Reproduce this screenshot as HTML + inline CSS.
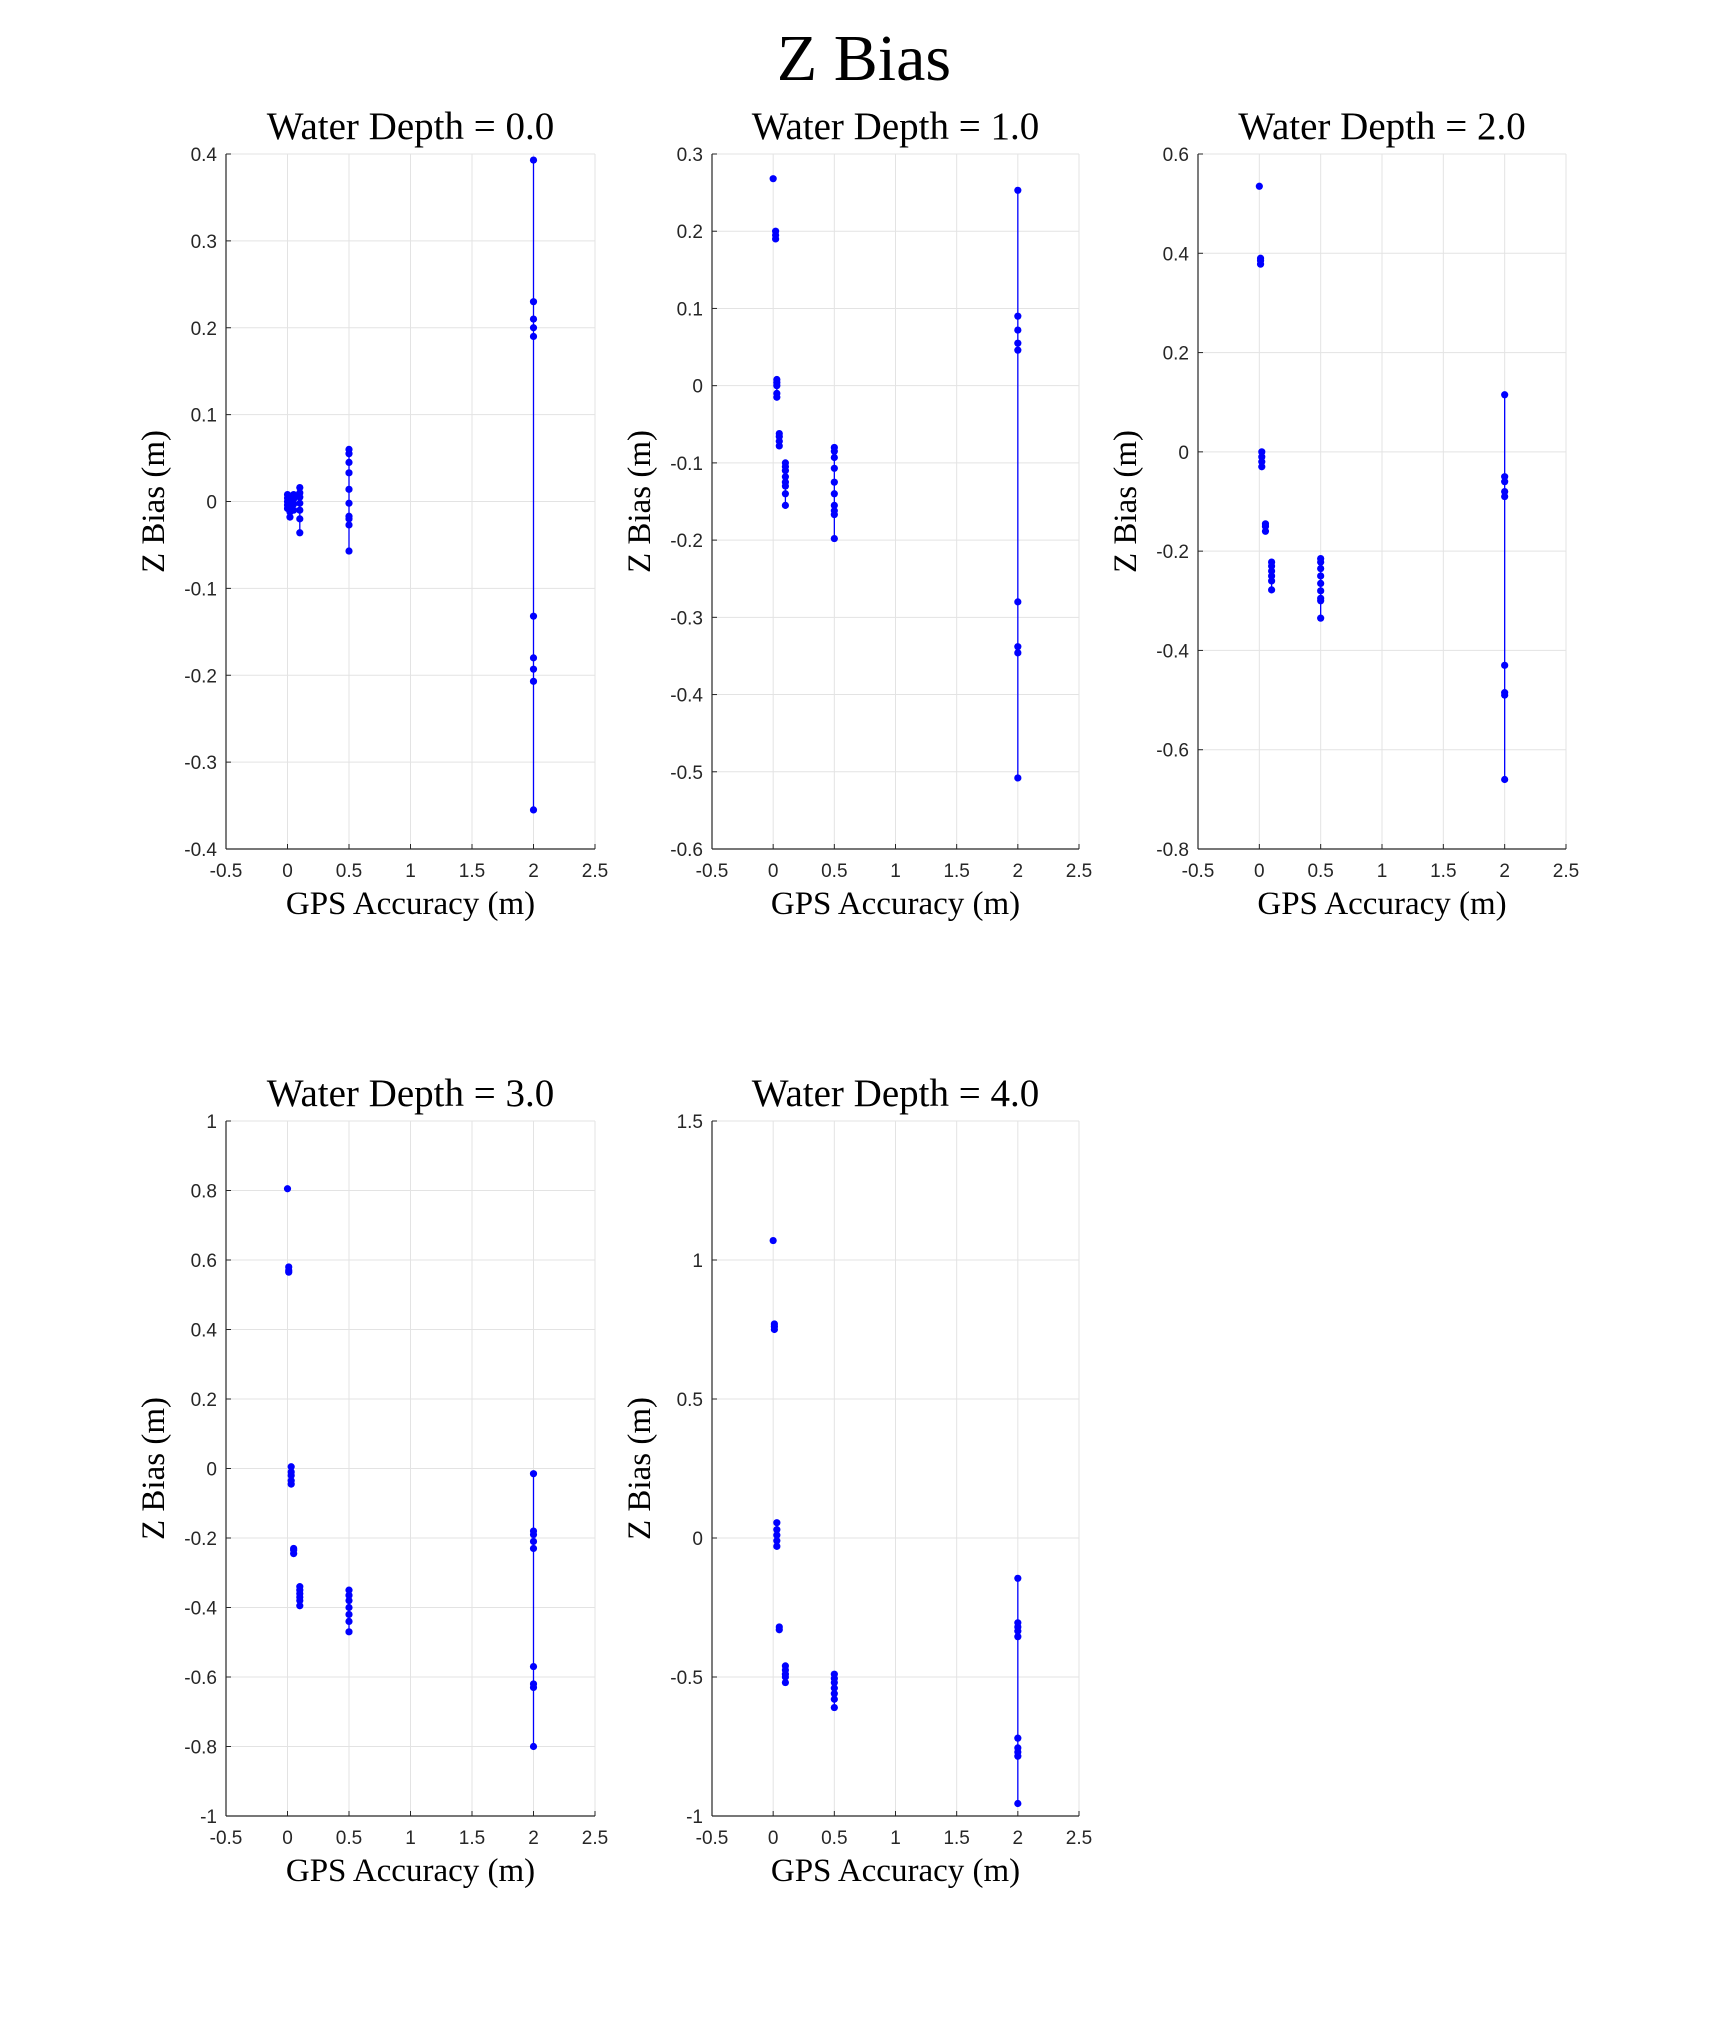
<!DOCTYPE html>
<html><head><meta charset="utf-8"><style>
html,body{margin:0;padding:0;background:#fff;}
svg{display:block;}
.tick{font-family:"Liberation Sans",sans-serif;font-size:19px;fill:#262626;}
.serif{font-family:"Liberation Serif",serif;fill:#000;}
</style></head><body>
<svg id="fig" width="1729" height="2039" viewBox="0 0 1729 2039">
<text class="serif" x="864" y="80" font-size="66" text-anchor="middle">Z Bias</text>
</svg>
<script>
const xTicks = [-0.5,0,0.5,1,1.5,2,2.5];
const panelTitles = ["Water Depth = 0.0","Water Depth = 1.0","Water Depth = 2.0","Water Depth = 3.0","Water Depth = 4.0"];
const yTicks0 = [-0.4,-0.3,-0.2,-0.1,0,0.1,0.2,0.3,0.4];
const yTicks1 = [-0.6,-0.5,-0.4,-0.3,-0.2,-0.1,0,0.1,0.2,0.3];
const yTicks2 = [-0.8,-0.6,-0.4,-0.2,0,0.2,0.4,0.6];
const yTicks3 = [-1,-0.8,-0.6,-0.4,-0.2,0,0.2,0.4,0.6,0.8,1];
const yTicks4 = [-1,-0.5,0,0.5,1,1.5];
// groups: [gpsAccuracy, [zBias values]]
const data0 = [[0,[0.008,0.004,0,-0.004,-0.008]],[0.02,[0.006,0,-0.006,-0.012,-0.018]],[0.05,[0.008,0.003,-0.003,-0.01]],[0.1,[0.016,0.01,0.005,-0.002,-0.01,-0.02,-0.036]],[0.5,[0.06,0.055,0.045,0.033,0.014,-0.002,-0.017,-0.02,-0.027,-0.057]],[2,[0.393,0.23,0.21,0.2,0.19,-0.132,-0.18,-0.193,-0.207,-0.355]]];
const data1 = [[0,[0.268]],[0.02,[0.2,0.195,0.19]],[0.03,[0.008,0.004,0,-0.01,-0.015]],[0.05,[-0.062,-0.066,-0.072,-0.078]],[0.1,[-0.1,-0.105,-0.11,-0.118,-0.125,-0.13,-0.14,-0.155]],[0.5,[-0.08,-0.085,-0.093,-0.107,-0.125,-0.14,-0.155,-0.162,-0.167,-0.198]],[2,[0.253,0.09,0.072,0.055,0.046,-0.28,-0.338,-0.346,-0.508]]];
const data2 = [[0,[0.535]],[0.01,[0.39,0.385,0.378]],[0.02,[0,-0.01,-0.02,-0.03]],[0.05,[-0.145,-0.15,-0.16]],[0.1,[-0.222,-0.23,-0.24,-0.25,-0.26,-0.278]],[0.5,[-0.215,-0.222,-0.235,-0.25,-0.265,-0.28,-0.295,-0.3,-0.335]],[2,[0.115,-0.05,-0.06,-0.08,-0.09,-0.43,-0.485,-0.49,-0.66]]];
const data3 = [[0,[0.805]],[0.01,[0.58,0.57,0.565]],[0.03,[0.005,-0.01,-0.02,-0.035,-0.045]],[0.05,[-0.23,-0.235,-0.245]],[0.1,[-0.34,-0.35,-0.36,-0.37,-0.38,-0.395]],[0.5,[-0.35,-0.365,-0.38,-0.4,-0.42,-0.44,-0.47]],[2,[-0.015,-0.18,-0.19,-0.21,-0.23,-0.57,-0.62,-0.63,-0.8]]];
const data4 = [[0,[1.07]],[0.01,[0.77,0.76,0.75]],[0.03,[0.055,0.03,0.01,-0.01,-0.03]],[0.05,[-0.32,-0.33]],[0.1,[-0.46,-0.475,-0.49,-0.5,-0.52]],[0.5,[-0.49,-0.505,-0.52,-0.54,-0.56,-0.58,-0.61]],[2,[-0.145,-0.305,-0.32,-0.335,-0.355,-0.72,-0.755,-0.77,-0.785,-0.955]]];

const NS="http://www.w3.org/2000/svg";
const svg=document.getElementById('fig');
function mk(tag,attrs,parent){const e=document.createElementNS(NS,tag);for(const k in attrs)e.setAttribute(k,attrs[k]);(parent||svg).appendChild(e);return e;}
const boxes=[[226,154,595,849],[712,154,1079,849],[1198,154,1566,849],[226,1121,595,1816],[712,1121,1079,1816]];
const yTickSets=[yTicks0,yTicks1,yTicks2,yTicks3,yTicks4];
const dataSets=[data0,data1,data2,data3,data4];
boxes.forEach((b,i)=>{
  const [L,T,R,B]=b;
  const yt=yTickSets[i], ymin=yt[0], ymax=yt[yt.length-1];
  const sx=v=>L+(v-xTicks[0])/(xTicks[xTicks.length-1]-xTicks[0])*(R-L);
  const sy=v=>B-(v-ymin)/(ymax-ymin)*(B-T);
  const g=mk('g',{});
  
  
  xTicks.forEach(t=>{const x=sx(t);
    mk('line',{x1:x,y1:T,x2:x,y2:B,stroke:'#e3e3e3','stroke-width':1},g);
    mk('line',{x1:x,y1:B,x2:x,y2:B-5,stroke:'#262626','stroke-width':1},g);
    const tx=mk('text',{x:x,y:B+28,'text-anchor':'middle',class:'tick'},g);tx.textContent=String(t);
    
    
  });
  yt.forEach(t=>{const y=sy(t);
    mk('line',{x1:L,y1:y,x2:R,y2:y,stroke:'#e3e3e3','stroke-width':1},g);
    mk('line',{x1:L,y1:y,x2:L+5,y2:y,stroke:'#262626','stroke-width':1},g);
    const tx=mk('text',{x:L-9,y:y+7,'text-anchor':'end',class:'tick'},g);tx.textContent=String(t);
    
    
  });
  mk('line',{x1:L,y1:T,x2:L,y2:B,stroke:'#262626','stroke-width':1.2},g);
  mk('line',{x1:L,y1:B,x2:R,y2:B,stroke:'#262626','stroke-width':1.2},g);
  dataSets[i].forEach(grp=>{
    const x=sx(grp[0]), vals=grp[1];
    const ln=mk('line',{x1:x,y1:sy(Math.max(...vals)),x2:x,y2:sy(Math.min(...vals)),stroke:'#0000ff','stroke-width':1.3},g);
    
    
    vals.forEach(v=>{const c=mk('circle',{cx:x,cy:sy(v),r:3.6,fill:'#0000ff'},g);
      
      
    });
  });
  const cx=(L+R)/2;
  const t=mk('text',{x:cx,y:T-15,'text-anchor':'middle',class:'serif','font-size':39},g);t.textContent=panelTitles[i];
  
  
  const xl=mk('text',{x:cx,y:B+65,'text-anchor':'middle',class:'serif','font-size':33},g);xl.textContent='GPS Accuracy (m)';
  
  
  const yx=L-62, yy=(T+B)/2;
  const yl=mk('text',{x:yx,y:yy,'text-anchor':'middle',class:'serif','font-size':33,transform:'rotate(-90 '+yx+' '+yy+')'},g);yl.textContent='Z Bias (m)';
  
  
});
</script>
</body></html>
